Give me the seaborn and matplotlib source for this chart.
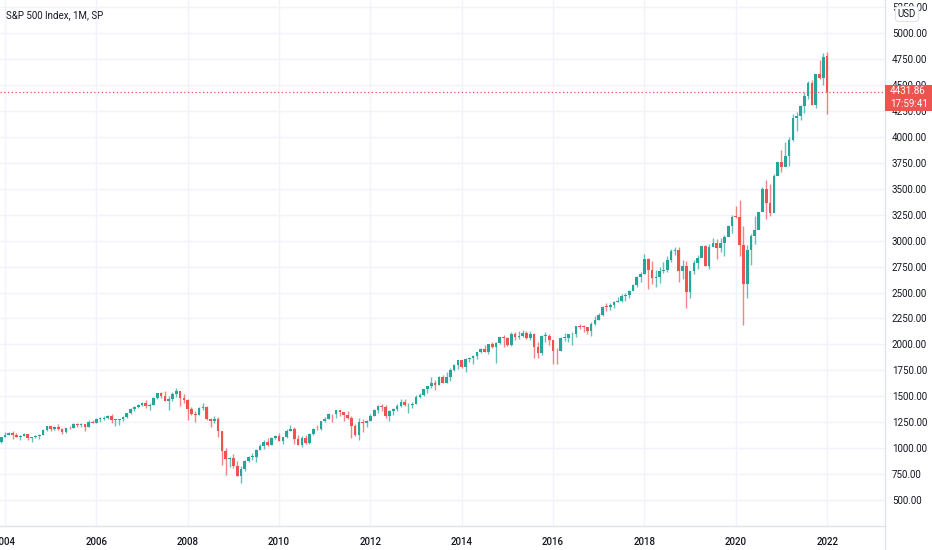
import matplotlib
matplotlib.use("Agg")
import matplotlib.pyplot as plt
import matplotlib.lines as mlines
import matplotlib.patches as mpatches
import seaborn as sns
import numpy as np
import pandas as pd

# ---------------- data (monthly OHLC, Dec 2003 .. Jan 2022) ----------------
start_month = "2003-12-01"

opens = [
    1058,
    1112, 1131, 1145, 1126, 1107, 1121, 1141, 1102, 1104, 1115, 1130, 1174,
    1212, 1181, 1204, 1181, 1157, 1192, 1191, 1234, 1220, 1229, 1207, 1249,
    1248, 1280, 1281, 1295, 1311, 1270, 1270, 1277, 1304, 1336, 1378, 1401,
    1418, 1438, 1407, 1421, 1482, 1531, 1503, 1455, 1474, 1527, 1549, 1481,
    1468, 1379, 1331, 1323, 1386, 1400, 1280, 1267, 1283, 1166, 969, 896,
    903, 826, 735, 798, 873, 919, 919, 987, 1021, 1057, 1036, 1096,
    1115, 1074, 1104, 1169, 1187, 1089, 1031, 1102, 1049, 1141, 1183, 1181,
    1258, 1286, 1327, 1326, 1364, 1345, 1321, 1292, 1219, 1131, 1253, 1247,
    1258, 1312, 1366, 1408, 1398, 1310, 1362, 1379, 1407, 1441, 1412, 1416,
    1426, 1498, 1515, 1569, 1598, 1631, 1606, 1686, 1633, 1682, 1757, 1806,
    1848, 1783, 1859, 1872, 1884, 1924, 1960, 1931, 2003, 1972, 2018, 2068,
    2059, 1995, 2105, 2068, 2086, 2107, 2063, 2104, 1972, 1920, 2079, 2080,
    2044, 1940, 1932, 2060, 2065, 2097, 2099, 2174, 2171, 2168, 2126, 2199,
    2239, 2279, 2364, 2363, 2384, 2412, 2423, 2470, 2472, 2519, 2575, 2648,
    2674, 2824, 2714, 2641, 2648, 2705, 2718, 2816, 2902, 2914, 2712, 2760,
    2507, 2704, 2784, 2834, 2946, 2752, 2942, 2980, 2926, 2977, 3038, 3141,
    3231, 3226, 2954, 2585, 2912, 3044, 3100, 3271, 3500, 3363, 3270, 3622,
    3756, 3714, 3811, 3973, 4181, 4204, 4298, 4395, 4523, 4308, 4605, 4567,
    4778,
]
highs = [
    1112,
    1155, 1158, 1163, 1151, 1128, 1146, 1141, 1109, 1131, 1142, 1188, 1217,
    1218, 1213, 1229, 1192, 1199, 1219, 1246, 1245, 1243, 1233, 1270, 1276,
    1295, 1297, 1311, 1318, 1326, 1284, 1283, 1308, 1340, 1389, 1407, 1431,
    1441, 1461, 1438, 1498, 1535, 1541, 1556, 1504, 1539, 1576, 1553, 1523,
    1471, 1396, 1359, 1397, 1440, 1405, 1292, 1314, 1304, 1168, 1007, 919,
    943, 876, 832, 888, 930, 956, 997, 1040, 1080, 1101, 1113, 1130,
    1151, 1113, 1181, 1220, 1206, 1132, 1120, 1129, 1149, 1196, 1227, 1263,
    1303, 1344, 1332, 1367, 1371, 1346, 1357, 1308, 1230, 1293, 1278, 1270,
    1334, 1378, 1419, 1422, 1416, 1364, 1392, 1426, 1475, 1470, 1435, 1448,
    1510, 1530, 1570, 1598, 1687, 1654, 1698, 1710, 1730, 1776, 1814, 1849,
    1851, 1868, 1883, 1897, 1925, 1968, 1992, 2005, 2019, 2019, 2075, 2094,
    2072, 2120, 2118, 2126, 2135, 2130, 2133, 2113, 2021, 2094, 2117, 2104,
    2044, 1963, 2076, 2111, 2103, 2121, 2178, 2194, 2188, 2169, 2214, 2278,
    2301, 2371, 2401, 2398, 2419, 2454, 2484, 2491, 2520, 2582, 2658, 2695,
    2873, 2835, 2801, 2717, 2743, 2791, 2848, 2917, 2941, 2940, 2815, 2800,
    2708, 2813, 2860, 2950, 2955, 2965, 3028, 3014, 3022, 3050, 3155, 3248,
    3338, 3394, 3137, 2955, 3068, 3233, 3280, 3515, 3588, 3550, 3646, 3760,
    3870, 3950, 3995, 4218, 4238, 4302, 4430, 4538, 4546, 4608, 4744, 4809,
    4819,
]
lows = [
    1053,
    1105, 1124, 1088, 1107, 1076, 1114, 1079, 1060, 1102, 1090, 1127, 1163,
    1163, 1180, 1173, 1137, 1147, 1189, 1191, 1201, 1205, 1168, 1202, 1246,
    1246, 1253, 1268, 1280, 1245, 1219, 1224, 1260, 1290, 1327, 1360, 1385,
    1403, 1390, 1364, 1416, 1476, 1485, 1454, 1371, 1453, 1490, 1406, 1435,
    1270, 1317, 1257, 1317, 1373, 1272, 1200, 1248, 1107, 840, 741, 815,
    805, 735, 667, 784, 866, 889, 869, 979, 992, 1020, 1030, 1086,
    1071, 1045, 1101, 1166, 1041, 1029, 1011, 1040, 1040, 1131, 1174, 1178,
    1257, 1282, 1249, 1295, 1311, 1258, 1282, 1102, 1115, 1075, 1159, 1202,
    1258, 1312, 1341, 1358, 1292, 1267, 1325, 1355, 1397, 1403, 1343, 1385,
    1426, 1485, 1501, 1536, 1582, 1560, 1605, 1627, 1633, 1647, 1747, 1767,
    1770, 1738, 1834, 1814, 1860, 1915, 1930, 1905, 1965, 1821, 2001, 1973,
    1988, 1981, 2040, 2048, 2067, 2056, 2044, 1867, 1872, 1894, 2020, 1993,
    1812, 1810, 1932, 2034, 2026, 1992, 2075, 2148, 2120, 2097, 2084, 2188,
    2234, 2271, 2322, 2329, 2353, 2406, 2407, 2418, 2446, 2521, 2557, 2605,
    2683, 2533, 2586, 2553, 2595, 2692, 2699, 2796, 2864, 2604, 2631, 2347,
    2444, 2682, 2723, 2849, 2751, 2729, 2952, 2822, 2892, 2855, 3051, 3070,
    3215, 2855, 2192, 2447, 2767, 2966, 3115, 3284, 3210, 3234, 3280, 3633,
    3663, 3725, 3723, 3955, 4056, 4165, 4233, 4367, 4306, 4279, 4560, 4495,
    4223,
]
closes = [
    1112,
    1131, 1145, 1126, 1107, 1121, 1141, 1102, 1104, 1115, 1130, 1174, 1212,
    1181, 1204, 1181, 1157, 1192, 1191, 1234, 1220, 1229, 1207, 1249, 1248,
    1280, 1281, 1295, 1311, 1270, 1270, 1277, 1304, 1336, 1378, 1401, 1418,
    1438, 1407, 1421, 1482, 1531, 1503, 1455, 1474, 1527, 1549, 1481, 1468,
    1379, 1331, 1323, 1386, 1400, 1280, 1267, 1283, 1166, 969, 896, 903,
    826, 735, 798, 873, 919, 919, 987, 1021, 1057, 1036, 1096, 1115,
    1074, 1104, 1169, 1187, 1089, 1031, 1102, 1049, 1141, 1183, 1181, 1258,
    1286, 1327, 1326, 1364, 1345, 1321, 1292, 1219, 1131, 1253, 1247, 1258,
    1312, 1366, 1408, 1398, 1310, 1362, 1379, 1407, 1441, 1412, 1416, 1426,
    1498, 1515, 1569, 1598, 1631, 1606, 1686, 1633, 1682, 1757, 1806, 1848,
    1783, 1859, 1872, 1884, 1924, 1960, 1931, 2003, 1972, 2018, 2068, 2059,
    1995, 2105, 2068, 2086, 2107, 2063, 2104, 1972, 1920, 2079, 2080, 2044,
    1940, 1932, 2060, 2065, 2097, 2099, 2174, 2171, 2168, 2126, 2199, 2239,
    2279, 2364, 2363, 2384, 2412, 2423, 2470, 2472, 2519, 2575, 2648, 2674,
    2824, 2714, 2641, 2648, 2705, 2718, 2816, 2902, 2914, 2712, 2760, 2507,
    2704, 2784, 2834, 2946, 2752, 2942, 2980, 2926, 2977, 3038, 3141, 3231,
    3226, 2954, 2585, 2912, 3044, 3100, 3271, 3500, 3363, 3270, 3622, 3756,
    3714, 3811, 3973, 4181, 4204, 4298, 4395, 4523, 4308, 4605, 4567, 4766,
    4431.86,
]

title_text = "S&P 500 Index, 1M, SP"
year_labels = ["2004", "2006", "2008", "2010", "2012", "2014", "2016",
               "2018", "2020", "2022"]
price_ticks = [500, 750, 1000, 1250, 1500, 1750, 2000, 2250, 2500, 2750,
               3000, 3250, 3500, 3750, 4000, 4250, 4500, 4750, 5000, 5250]
last_price = 4431.86
countdown = "17:59:41"
currency = "USD"

# ---------------- frame ----------------
df = pd.DataFrame({
    "date": pd.date_range(start_month, periods=len(closes), freq="MS"),
    "open": opens, "high": highs, "low": lows, "close": closes,
})
df["idx"] = np.arange(len(df))
df["up"] = df["close"] >= df["open"]

UP = "#26a69a"
DOWN = "#ef5350"
GRID = "#f0f3fa"
BORDER = "#e0e3eb"
TXT = "#131722"

sns.set_theme(style="white")
plt.rcParams["font.family"] = ["Roboto", "DejaVu Sans"]

W, H = 932, 550
fig = plt.figure(figsize=(W / 100, H / 100), dpi=100)
fig.patch.set_facecolor("white")
ax_left, ax_bottom = 0, 24
ax_w, ax_h = 885, 526
ax = fig.add_axes([ax_left / W, ax_bottom / H, ax_w / W, ax_h / H])
ax.set_facecolor("white")

# x positions of year ticks (January of each labelled year)
year_idx = [df.index[(df["date"].dt.year == int(y)) & (df["date"].dt.month == 1)][0]
            for y in year_labels]

ax.set_xlim(-0.31, 232.2)
ax.set_ylim(251, 5318)

# grid
for p in price_ticks:
    ax.axhline(p, color=GRID, lw=1, zorder=0)
for xi in year_idx:
    ax.axvline(xi, color=GRID, lw=1, zorder=0)

colors = np.where(df["up"], UP, DOWN)
# wicks
ax.vlines(df["idx"], df["low"], df["high"], colors=colors, lw=1.0, alpha=0.7, zorder=2)
# bodies
body_low = np.minimum(df["open"], df["close"])
body_h = np.maximum(np.abs(df["close"] - df["open"]), 8)
ax.bar(df["idx"], body_h, bottom=body_low, width=0.7, color=colors,
       linewidth=0, zorder=3)

# last price line
ax.axhline(last_price, color=DOWN, lw=0.9, ls=(0, (1, 2)), zorder=4)

# axes styling
ax.set_xticks(year_idx)
ax.set_xticklabels(year_labels)
ax.yaxis.tick_right()
ax.set_yticks(price_ticks)
ax.set_yticklabels([f"{p:.2f}" for p in price_ticks])
ax.tick_params(axis="y", length=0, pad=5, labelsize=7, colors=TXT)
ax.tick_params(axis="x", length=0, pad=8, labelsize=7, colors=TXT)
for lab in ax.get_xticklabels():
    lab.set_fontweight("medium")
for s in ["top", "left"]:
    ax.spines[s].set_visible(False)
for s in ["right", "bottom"]:
    ax.spines[s].set_color(BORDER)
    ax.spines[s].set_linewidth(1)

# extend the price-axis border down to the bottom of the figure
fig.add_artist(mlines.Line2D([ax_w / W, ax_w / W], [0, ax_bottom / H],
                             color=BORDER, lw=1, transform=fig.transFigure))

# title
fig.text(6 / W, 1 - 15 / H, title_text, fontsize=7, color=TXT,
         ha="left", va="center")

# last price label box on price axis
y_lp = ax.transData.transform((0, last_price))[1] / (H)
box_h = 26 / H
fig.add_artist(mpatches.FancyBboxPatch((ax_w / W, y_lp - 19 / H), (W - ax_w) / W, box_h,
                                       boxstyle="square,pad=0", facecolor=DOWN,
                                       edgecolor="none", transform=fig.transFigure,
                                       zorder=10))
fig.text((ax_w + 5) / W, y_lp + 0.5 / H, f"{last_price:.2f}", fontsize=7,
         color="white", ha="left", va="center", zorder=11)
fig.text((ax_w + 5) / W, y_lp - 12 / H, countdown, fontsize=7,
         color="white", ha="left", va="center", zorder=11)

# currency badge
fig.text(907 / W, 1 - 14 / H, currency, fontsize=7, color=TXT, ha="center",
         va="center", zorder=12,
         bbox=dict(boxstyle="round,pad=0.25,rounding_size=0.3", fc="white",
                   ec=BORDER, lw=0.8))

fig.savefig("out.png", dpi=100, facecolor="white")
